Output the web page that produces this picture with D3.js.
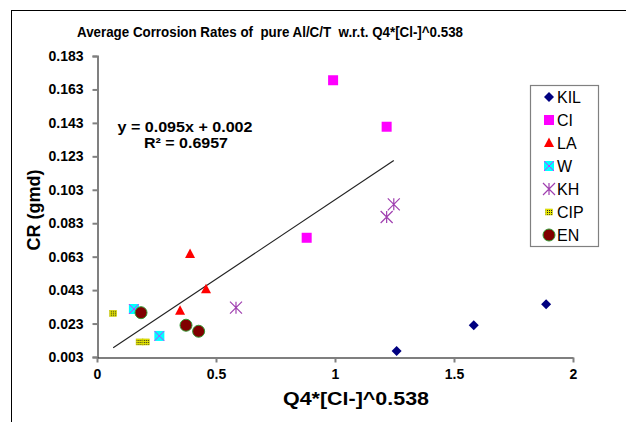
<!DOCTYPE html>
<html>
<head>
<meta charset="utf-8">
<script src="https://cdn.jsdelivr.net/npm/d3@7"></script>
<style>
  body { margin: 0; background: #fff; }
  svg { display: block; font-family: "Liberation Sans", Arial, sans-serif; }
  .tick-lbl { font-size: 14px; font-weight: bold; fill: #000; }
</style>
</head>
<body>
<div id="chart"></div>
<script>
/* Average corrosion rates vs Q4*[Cl-]^0.538 — scatter with linear trendline */
const seriesNames = ["KIL", "CI", "LA", "W", "KH", "CIP", "EN"];
const kilX = [1.259, 1.583, 1.887], kilY = [0.0066, 0.0220, 0.0345];
const ciX = [0.992, 1.217, 0.881], ciY = [0.1685, 0.1407, 0.0743];
const laX = [0.349, 0.458, 0.391], laY = [0.0307, 0.0435, 0.0646];
const wX = [0.155, 0.262], wY = [0.0317, 0.0156];
const khX = [0.584, 1.217, 1.247], khY = [0.0325, 0.0867, 0.0943];
const cipX = [0.068, 0.179, 0.205], cipY = [0.0291, 0.0120, 0.0120];
const enX = [0.185, 0.374, 0.427], enY = [0.0295, 0.0220, 0.0184];
const yTicks = [0.003, 0.023, 0.043, 0.063, 0.083, 0.103, 0.123, 0.143, 0.163, 0.183];
const xTicks = [0, 0.5, 1, 1.5, 2];
const trend = { slope: 0.095, icpt: 0.002, x0: 0.068, x1: 1.247 };

const W = 626, H = 422;
const svg = d3.select("#chart").append("svg").attr("width", W).attr("height", H);

// outer chart frame (runs off the right and bottom edges)
svg.append("rect").attr("x", 11.5).attr("y", 10.5).attr("width", 700).attr("height", 500)
  .attr("fill", "none").attr("stroke", "#000").attr("stroke-width", 1);

const x = d3.scaleLinear().domain([0, 2]).range([97, 573]);
const y = d3.scaleLinear().domain([0.003, 0.183]).range([357, 56]);

// y axis (gray)
const gy = svg.append("g").attr("transform", "translate(97.5,0)")
  .call(d3.axisLeft(y).tickValues(yTicks).tickSize(5).tickPadding(9).tickFormat(d3.format(".3f")));
gy.select(".domain").attr("stroke", "#808080").attr("stroke-width", 2);
gy.selectAll(".tick line").attr("stroke", "#808080").attr("stroke-width", 2);
gy.selectAll(".tick text").attr("class", "tick-lbl").attr("font-family", null).attr("font-size", null);

// x axis (black line, gray ticks)
const gx = svg.append("g").attr("transform", "translate(0,357.5)")
  .call(d3.axisBottom(x).tickValues(xTicks).tickSize(5).tickSizeOuter(0).tickPadding(7).tickFormat(d => d3.format("")(d)));
gx.select(".domain").attr("stroke", "#000").attr("stroke-width", 1.2);
gx.selectAll(".tick line").attr("stroke", "#808080").attr("stroke-width", 2);
gx.selectAll(".tick text").attr("class", "tick-lbl").attr("font-family", null).attr("font-size", null);

// titles
svg.append("text").attr("x", 270).attr("y", 37).attr("text-anchor", "middle")
  .attr("font-size", 15).attr("font-weight", "bold").style("white-space", "pre")
  .attr("textLength", 386).attr("lengthAdjust", "spacingAndGlyphs")
  .text("Average Corrosion Rates of  pure Al/C/T  w.r.t. Q4*[Cl-]^0.538");
svg.append("text").attr("x", 356).attr("y", 405).attr("text-anchor", "middle")
  .attr("font-size", 18).attr("font-weight", "bold")
  .attr("textLength", 146).attr("lengthAdjust", "spacingAndGlyphs").text("Q4*[Cl-]^0.538");
svg.append("text").attr("transform", "translate(40,210) rotate(-90)").attr("text-anchor", "middle")
  .attr("font-size", 18).attr("font-weight", "bold").text("CR (gmd)");

// trendline
const tl = d3.line().x(d => x(d)).y(d => y(trend.slope * d + trend.icpt));
svg.append("path").datum([trend.x0, trend.x1]).attr("d", tl)
  .attr("fill", "none").attr("stroke", "#222").attr("stroke-width", 1.2);
svg.append("text").attr("x", 185).attr("y", 132).attr("text-anchor", "middle")
  .attr("font-size", 15).attr("font-weight", "bold")
  .attr("textLength", 135).attr("lengthAdjust", "spacingAndGlyphs").text("y = 0.095x + 0.002");
svg.append("text").attr("x", 186).attr("y", 148).attr("text-anchor", "middle")
  .attr("font-size", 15).attr("font-weight", "bold")
  .attr("textLength", 84).attr("lengthAdjust", "spacingAndGlyphs").text("R² = 0.6957");

// CIP pattern
const defs = svg.append("defs");
const pat = defs.append("pattern").attr("id", "cipPat").attr("width", 2).attr("height", 2)
  .attr("patternUnits", "userSpaceOnUse");
pat.append("rect").attr("width", 2).attr("height", 2).attr("fill", "#e6e600");
pat.append("rect").attr("width", 1).attr("height", 1).attr("fill", "#222");

// marker drawers: g is a group centred on the point
const markers = {
  KIL: g => g.append("path").attr("d", "M0,-5L5,0L0,5L-5,0Z").attr("fill", "#000080"),
  CI: g => g.append("rect").attr("x", -5).attr("y", -5).attr("width", 10).attr("height", 10).attr("fill", "#ff00ff"),
  LA: g => g.append("path").attr("d", "M0,-5.5L5,4L-5,4Z").attr("fill", "#ff0000"),
  W: g => {
    g.append("rect").attr("x", -5).attr("y", -5).attr("width", 10).attr("height", 10).attr("fill", "#00ffff");
    g.append("path").attr("d", "M-5,-5L5,5M-5,5L5,-5").attr("stroke", "#ff00ff").attr("stroke-width", 1).attr("opacity", 0.8);
  },
  KH: g => g.append("path").attr("d", "M-6,-6L6,6M-6,6L6,-6M0,-6V6")
    .attr("stroke", "#a040b0").attr("stroke-width", 1.2).attr("fill", "none"),
  CIP: g => g.append("rect").attr("x", -3.5).attr("y", -3).attr("width", 7).attr("height", 6)
    .attr("fill", "url(#cipPat)").attr("stroke", "#cccc00").attr("stroke-width", 0.6),
  EN: g => g.append("circle").attr("r", 6).attr("fill", "#800000").attr("stroke", "#339933").attr("stroke-width", 1)
};

const seriesData = {
  KIL: [kilX, kilY], CI: [ciX, ciY], LA: [laX, laY], W: [wX, wY],
  KH: [khX, khY], CIP: [cipX, cipY], EN: [enX, enY]
};

seriesNames.forEach(name => {
  const [xs, ys] = seriesData[name];
  const pts = xs.map((v, i) => ({ x: v, y: ys[i] }));
  svg.append("g").selectAll("g").data(pts).join("g")
    .attr("transform", d => `translate(${x(d.x)},${y(d.y)})`)
    .each(function () { markers[name](d3.select(this)); });
});

// legend
const lg = svg.append("g");
lg.append("rect").attr("x", 530.5).attr("y", 85.5).attr("width", 68).attr("height", 161)
  .attr("fill", "#fff").attr("stroke", "#808080").attr("stroke-width", 1.2);
const ly = d3.scalePoint().domain(seriesNames).range([97, 235]);
seriesNames.forEach(name => {
  const g = lg.append("g").attr("transform", `translate(549,${ly(name)})`);
  markers[name](g);
  lg.append("text").attr("x", 557).attr("y", ly(name) + 6)
    .attr("font-size", 16).attr("fill", "#000").text(name);
});
</script>
</body>
</html>
